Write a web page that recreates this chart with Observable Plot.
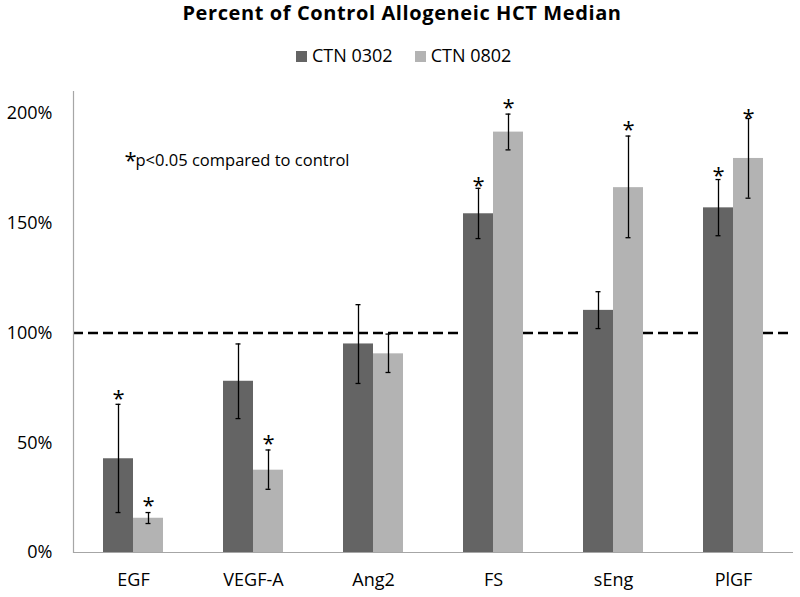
<!DOCTYPE html>
<html>
<head>
<meta charset="utf-8">
<script src="https://cdn.jsdelivr.net/npm/d3@7"></script>
<script src="https://cdn.jsdelivr.net/npm/@observablehq/plot@0.6"></script>
<style>
  html, body { margin: 0; padding: 0; background: #fff; }
  #wrap { position: relative; width: 800px; height: 597px; font-family: "Open Sans", sans-serif; }
  #title { position: absolute; top: -1px; left: 2px; width: 800px; text-align: center; font-weight: bold; font-size: 20px; letter-spacing: 0.6px; line-height: 28px; color: #000; }
  #legend { position: absolute; top: 43px; left: 296px; font-size: 18px; line-height: 24px; color: #000; white-space: nowrap; }
  #legend .sw { display: inline-block; width: 11px; height: 11px; margin-right: 5px; vertical-align: baseline; }
  #legend .item { margin-right: 22px; }
  #chart { position: absolute; top: 70px; left: 0; }
</style>
</head>
<body>
<div id="wrap">
  <div id="title">Percent of Control Allogeneic HCT Median</div>
  <div id="legend"></div>
  <div id="chart"></div>
</div>
<script>
// ---- data ----
const categories = ["EGF", "VEGF-A", "Ang2", "FS", "sEng", "PlGF"];
const seriesNames = ["CTN 0302", "CTN 0802"];
const seriesColors = ["#646464", "#b3b3b3"];

const ctn0302 = [0.427, 0.78, 0.95, 1.543, 1.103, 1.57];
const ctn0302Lo = [0.182, 0.61, 0.77, 1.43, 1.02, 1.443];
const ctn0302Hi = [0.675, 0.95, 1.129, 1.659, 1.188, 1.699];
const ctn0302Star = [0.694, null, null, 1.667, null, 1.709];

const ctn0802 = [0.156, 0.375, 0.905, 1.915, 1.662, 1.795];
const ctn0802Lo = [0.132, 0.288, 0.82, 1.834, 1.434, 1.614];
const ctn0802Hi = [0.182, 0.467, 0.995, 1.997, 1.897, 1.977];
const ctn0802Star = [0.205, 0.49, null, 2.02, 1.92, 1.976];

const yTicks = [0, 0.5, 1, 1.5, 2];
const referenceLevel = 1;
const noteStar = "*";
const noteText = "p<0.05 compared to control";

// ---- build rows ----
function rows(vals, lo, hi, star) {
  return categories.map((c, i) => ({cat: c, value: vals[i], lo: lo[i], hi: hi[i], star: star[i]}));
}
const rowsA = rows(ctn0302, ctn0302Lo, ctn0302Hi, ctn0302Star);
const rowsB = rows(ctn0802, ctn0802Lo, ctn0802Hi, ctn0802Star);

// ---- legend ----
const legend = document.getElementById("legend");
seriesNames.forEach((s, i) => {
  const span = document.createElement("span");
  span.className = "item";
  span.innerHTML = `<span class="sw" style="background:${seriesColors[i]}"></span>${s}`;
  legend.appendChild(span);
});

function seriesMarks(data, color, off) {
  return [
    Plot.barY(data, {x: "cat", y: "value", fill: color, insetLeft: 45, insetRight: 45, dx: off}),
    Plot.ruleX(data, {x: "cat", y1: "lo", y2: "hi", stroke: "#000", strokeWidth: 1.3, dx: off}),
    Plot.tickY(data, {x: "cat", y: "hi", stroke: "#000", strokeWidth: 1.3, insetLeft: 57.5, insetRight: 57.5, dx: off}),
    Plot.tickY(data, {x: "cat", y: "lo", stroke: "#000", strokeWidth: 1.3, insetLeft: 57.5, insetRight: 57.5, dx: off}),
    Plot.text(data.filter(d => d.star != null), {x: "cat", y: "star", text: () => "*", fontSize: 22, fill: "#000", lineAnchor: "bottom", dy: 6, dx: off})
  ];
}

const chart = Plot.plot({
  width: 800,
  height: 527,
  marginTop: 21,
  marginBottom: 45,
  marginLeft: 73,
  marginRight: 7,
  style: {fontFamily: "Open Sans, sans-serif", fontSize: "18px", color: "#000", background: "#fff"},
  x: {domain: categories, padding: 0, label: null},
  y: {domain: [0, 2.1], label: null},
  marks: [
    Plot.ruleY([referenceLevel], {stroke: "#000", strokeWidth: 2.5, strokeDasharray: "10,5"}),
    ...seriesMarks(rowsA, seriesColors[0], -15),
    ...seriesMarks(rowsB, seriesColors[1], 15),
    Plot.ruleY([0], {stroke: "#a6a6a6", strokeWidth: 1.2}),
    Plot.frame({anchor: "left", stroke: "#a6a6a6", strokeWidth: 1.2}),
    Plot.axisY({ticks: yTicks, tickFormat: d3.format(".0%"), tickSize: 0, tickPadding: 21, fontSize: 18, label: null}),
    Plot.axisX({tickSize: 0, tickPadding: 21, fontSize: 18, label: null}),
    Plot.text([noteStar], {frameAnchor: "top-left", text: d => d, fontSize: 22, textAnchor: "start", lineAnchor: "bottom", dx: 51, dy: 76}),
    Plot.text([noteText], {frameAnchor: "top-left", text: d => d, fontSize: 16.5, textAnchor: "start", lineAnchor: "bottom", dx: 62, dy: 74})
  ]
});
document.getElementById("chart").appendChild(chart);
</script>
</body>
</html>
